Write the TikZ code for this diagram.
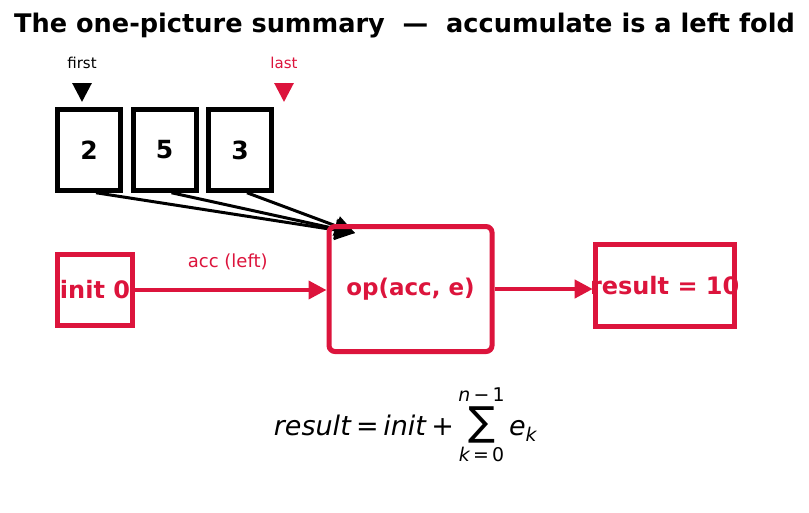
\documentclass[tikz,border=0pt]{standalone}
\usepackage{amsmath}
\usepackage{fontspec}
\setmainfont{DejaVu Sans}
\usetikzlibrary{arrows.meta}
\definecolor{crim}{HTML}{DC143C}
\begin{document}
\begin{tikzpicture}[x=1pt,y=-1pt,>={Triangle[length=18pt,width=18pt]},
    cell/.style={draw,line width=5pt,minimum width=63pt,minimum height=80.5pt,inner sep=0pt,font=\fontsize{25}{25}\selectfont\bfseries},
    rbox/.style={draw=crim,line width=5pt,inner sep=0pt,text=crim,font=\fontsize{24}{24}\selectfont\bfseries},
    flow/.style={->,crim,line width=4pt},
    mark tip/.style={-{Triangle[length=19pt,width=19pt]},line width=3pt,shorten <=10.5pt}]
    \useasboundingbox (0,0) rectangle (809,512);
    \node[font=\fontsize{25.6}{25.6}\selectfont\bfseries] (title) at (404.5,26) {The one-picture summary\ \ —\ \ accumulate is a left fold};
    \node[font=\fontsize{15}{15}\selectfont] (first) at (82,63) {first};
    \node[font=\fontsize{15}{15}\selectfont,text=crim] (last) at (284,63) {last};
    \coordinate (ftip) at (82,102);
    \coordinate (ltip) at (284,102);
    \draw[mark tip] (first) -- (ftip);
    \draw[mark tip,crim] (last) -- (ltip);
    \foreach\v[count=\i] in{2,5,3}\node[cell](d\i) at ({13.5+75.5*\i},150){\v};
    \coordinate (hit) at (355,233);
    \foreach\i in{1,2,3}\draw[-{Triangle[length=20pt,width=20pt]},line width=3pt]([xshift=7pt]d\i.south)--(hit);
    \node[rbox,minimum width=75pt,minimum height=71pt] (init) at (95,290) {\makebox[0pt]{init 0}};
    \node[rbox,rounded corners=6pt,minimum width=163pt,minimum height=125pt,font=\fontsize{23}{23}\selectfont\bfseries] (op) at (410.5,289) {op(acc, e)};
    \node[rbox,minimum width=139pt,minimum height=82pt] (res) at (664.7,285.4) {\makebox[0pt]{result = 10}};
    \draw[flow] (init.east) -- (init.east -| op.west) node[midway,above=15pt,xshift=-3pt,font=\fontsize{18}{18}\selectfont] {acc (left)};
    \draw[flow] (op.east) -- (op.east -| res.west);
    \node[font=\fontsize{27}{27}\selectfont] (sum) at (405.5,425) {\textit{result}\,=\,\textit{init}\,+\,$\mathop{\hbox{\fontsize{40}{40}\selectfont ∑}}\limits_{\text{{\itshape k}\,=\,0}}^{\text{{\itshape n}\,−\,1}}$\,\textit{e}$_{\text{\itshape k}}$};
\end{tikzpicture}
\end{document}
